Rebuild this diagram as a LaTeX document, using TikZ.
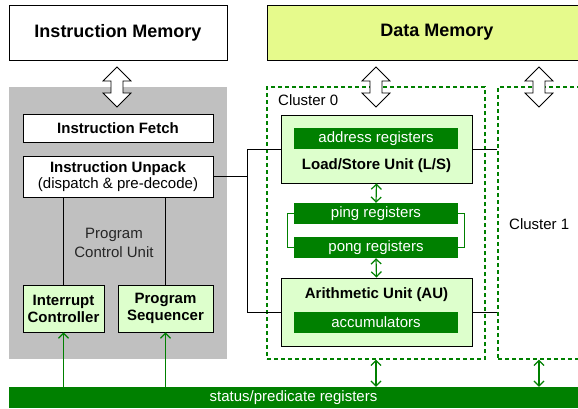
\documentclass[tikz,border=0pt]{standalone}
\usepackage{fontspec}
\setmainfont{Liberation Sans}
\usetikzlibrary{arrows.meta}
\definecolor{regGreen}{RGB}{0,128,0}
\definecolor{unitFill}{RGB}{221,255,204}
\definecolor{memFill}{RGB}{230,250,140}
\definecolor{pcuGray}{RGB}{192,192,192}

\begin{document}
\begin{tikzpicture}[x=1pt,y=-1pt,
		box/.style={draw,line width=0.9pt,inner sep=0pt,align=center},
		memory/.style={box,font=\fontsize{18}{21}\selectfont\bfseries,minimum height=55pt},
		stage/.style={box,fill=white,minimum width=190pt},
		ctrl/.style={box,fill=unitFill,font=\fontsize{15}{17}\selectfont\bfseries,minimum height=47pt},
		unit/.style={box,fill=unitFill,minimum width=191pt,minimum height=68pt},
		regbar/.style={fill=regGreen,text=white,font=\fontsize{15}{17}\selectfont,inner sep=0pt,minimum width=164pt,minimum height=21pt},
		cluster/.style={draw=regGreen,dash pattern=on 4pt off 3pt,line width=1.3pt,minimum height=272pt,inner sep=0pt},
		label/.style={font=\fontsize{15}{18}\selectfont,inner sep=0pt,align=center},
		link/.style={line width=1pt},
		flow/.style={draw=regGreen,line width=1.2pt,{Straight Barb[length=5pt,width=10pt]}-{Straight Barb[length=5pt,width=10pt]}},
		rise/.style={draw=regGreen,line width=1.2pt,-{Straight Barb[length=5pt,width=10pt]}},
		bigarrow/.pic={\draw[fill=white,line width=0.8pt] (0,-20) -- (14,-6) -- (6,-6) -- (6,6) -- (14,6)
			-- (0,20) -- (-14,6) -- (-6,6) -- (-6,-6) -- (-14,-6) -- cycle;}]
	\clip (0,0) rectangle (578,408);

	% memories
	\node[memory,minimum width=218pt] (imem) at (118,32.5) {Instruction Memory};
	\node[memory,fill=memFill,minimum width=340pt] (dmem) at (437,32.5) {Data Memory};

	% program control unit
	\node[fill=pcuGray,minimum width=218pt,minimum height=272pt,inner sep=0pt] (pcu) at (118,223) {};
	\node[stage,minimum height=28pt,font=\fontsize{15}{17}\selectfont\bfseries] (fetch) at (118,128) {Instruction Fetch};
	\node[stage,minimum height=41pt,font=\fontsize{15}{17}\selectfont] (unpack) at (118,176.5)
		{\textbf{Instruction Unpack}\\[-1pt](dispatch \& pre-decode)};
	\node[ctrl,minimum width=81pt] (irq) at (63.5,308.5) {Interrupt\\Controller};
	\node[ctrl,minimum width=95pt] (seq) at (165.5,308.5) {Program\\Sequencer};
	\node[label,text=black!85] (pculabel) at (114,243) {Program\\[1pt]Control Unit};
	\draw[link] (irq.north) -- (irq.north |- unpack.south);
	\draw[link] (seq.north) -- (seq.north |- unpack.south);

	% clusters
	\node[cluster,minimum width=218pt] (cl0) at (376,223) {};
	\node[cluster,minimum width=140pt] (cl1) at (568,223) {};
	\node[label,anchor=west] (cl0label) at (278,100) {Cluster 0};
	\node[label,anchor=west] (cl1label) at (509,224) {Cluster 1};

	\node[unit] (ls) at (376.5,149) {};
	\node[regbar] (addr) at (376,138.5) {address registers};
	\node[label,font=\fontsize{15}{17}\selectfont\bfseries] (lslabel) at (376.5,166) {Load/Store Unit (L/S)};
	\node[regbar] (ping) at (376,213.5) {ping registers};
	\node[regbar] (pong) at (376,247.5) {pong registers};
	\node[unit] (au) at (376.5,312) {};
	\node[label,font=\fontsize{15}{17}\selectfont\bfseries] (aulabel) at (376.5,295) {Arithmetic Unit (AU)};
	\node[regbar] (acc) at (376,322.5) {accumulators};

	% status bar
	\node[regbar,minimum width=569pt] (status) at (293.5,397.5) {status/predicate registers};

	% memory ports
	\coordinate (iport) at (117,87);
	\coordinate (dport0) at (376,87);
	\coordinate (dport1) at (539,87);
	\pic at (iport) {bigarrow};
	\pic at (dport0) {bigarrow};
	\pic at (dport1) {bigarrow};

	% dispatch bus
	\coordinate (bus) at (247,0);
	\draw[link] (unpack.east) -- (unpack.east -| bus);
	\draw[link] (ls.west) -| (bus |- au.west) -- (au.west);
	\draw[link] (ls.east) -- (ls.east -| cl1.west);
	\draw[link] (au.east) -- (au.east -| cl1.west);

	% register paths
	\draw[flow] (ls.south) -- (ping.north);
	\draw[flow] (pong.south) -- (au.north);
	\draw[regGreen,line width=1pt] (ping.west) -- ++(-6,0) |- (pong.west);
	\draw[regGreen,line width=1pt] (ping.east) -- ++(6,0) |- (pong.east);
	\draw[flow] (cl0.south) -- (cl0.south |- status.north);
	\draw[flow] (dport1 |- cl1.south) -- (dport1 |- status.north);
	\draw[rise] (irq.south |- status.north) -- (irq.south);
	\draw[rise] (seq.south |- status.north) -- (seq.south);
\end{tikzpicture}
\end{document}
